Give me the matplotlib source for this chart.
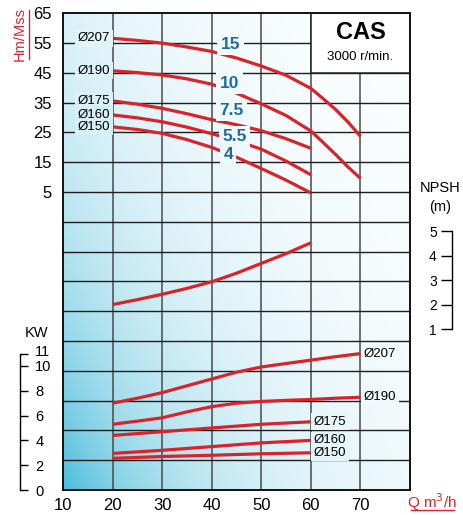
import numpy as np
import matplotlib
matplotlib.use("Agg")
from matplotlib import pyplot as plt
from matplotlib.patches import Rectangle
from matplotlib.lines import Line2D
from matplotlib.transforms import ScaledTranslation

plt.rcParams['font.family'] = ['Liberation Sans', 'DejaVu Sans']

# --- data ---
q_long = [20, 25, 30, 35, 40, 45, 50, 55, 60, 62.5, 65, 67.5, 70]
q_short = [20, 25, 30, 35, 40, 45, 50, 55, 60]
q_kw_long = [20, 25, 30, 35, 40, 45, 50, 55, 60, 65, 70]
q_kw_short = [20, 30, 40, 50, 60]

diam_labels = ['Ø207', 'Ø190', 'Ø175', 'Ø160', 'Ø150']
hp_labels = ['15', '10', '7.5', '5.5', '4']

# head (m)
head_207 = [56.6, 55.9, 55.0, 53.7, 52.2, 50.0, 47.3, 44.2, 39.8, 36.3, 32.7, 28.5, 23.7]
head_190 = [45.7, 45.1, 44.3, 43.0, 41.2, 38.2, 34.6, 30.7, 25.5, 21.6, 17.6, 13.4, 9.6]
head_175 = [35.6, 34.5, 33.1, 31.3, 29.3, 27.6, 25.6, 22.9, 19.7]
head_160 = [30.9, 29.9, 28.6, 26.8, 24.6, 22.2, 19.4, 15.4, 10.8]
head_150 = [26.9, 26.0, 24.7, 22.6, 20.0, 16.7, 12.9, 9.0, 4.7]

# NPSH (m)
q_npsh = [20, 25, 30, 35, 40, 45, 50, 55, 60]
npsh = [2.0, 2.2, 2.42, 2.66, 2.93, 3.28, 3.68, 4.08, 4.52]

# power (kW)
kw_207 = [7.0, 7.4, 7.85, 8.4, 8.95, 9.5, 9.92, 10.2, 10.47, 10.75, 11.0]
kw_190 = [5.3, 5.55, 5.82, 6.3, 6.72, 7.0, 7.14, 7.23, 7.3, 7.4, 7.48]
kw_175 = [4.4, 4.7, 5.0, 5.3, 5.5]
kw_160 = [2.95, 3.2, 3.5, 3.8, 4.0]
kw_150 = [2.55, 2.7, 2.8, 2.92, 3.0]

# where the hp labels sit (Q, H)
hp_pos_q = [43.8, 43.6, 44.0, 44.6, 43.3]
hp_pos_h = [54.6, 41.6, 32.4, 23.5, 17.6]

head_ticks = [65, 55, 45, 35, 25, 15, 5]
npsh_ticks = [1, 2, 3, 4, 5]
kw_ticks = [0, 2, 4, 6, 8, 10, 11]
q_ticks = [10, 20, 30, 40, 50, 60, 70]

RED = '#d9232b'
BLUE = '#1f6aa5'
CYAN = np.array([0.30, 0.74, 0.86])
WHITE = np.array([1.0, 1.0, 1.0])

W, H = 464, 515
fig = plt.figure(figsize=(W / 100, H / 100), dpi=100)


def fx(px):
    return px / W


def fy(py):
    return 1 - py / H


def bg_at(u, v):
    t = np.exp(-(2.4 * u + 1.6 * v))
    return WHITE * (1 - t) + CYAN * t


rect = [fx(63), fy(490), 347 / W, 476.7 / H]

# main axes: head scale
ax = fig.add_axes(rect)

# background gradient
uu, vv = np.meshgrid(np.linspace(0, 1, 300), np.linspace(0, 1, 300))
tt = np.exp(-(2.4 * uu + 1.6 * vv))[..., None]
img = WHITE * (1 - tt) + CYAN * tt
ax.imshow(img, extent=(10, 80, -95, 65), origin='lower', aspect='auto', zorder=0)
ax.set_xlim(10, 80)
ax.set_ylim(-95, 65)

for v in range(20, 80, 10):
    ax.axvline(v, color='#4a4a4a', lw=1.1, zorder=1)
for h in range(-85, 65, 10):
    ax.axhline(h, color='#1e1e1e', lw=1.0, zorder=1)

# CAS box
ax.add_patch(Rectangle((60, 45), 20, 20, fc='white', ec='#1e1e1e', lw=1.1, zorder=2))
ax.text(70, 58.6, 'CAS', ha='center', va='center', fontsize=17, fontweight='bold', zorder=3)
ax.text(70, 50.2, '3000 r/min.', ha='center', va='center', fontsize=9.5, zorder=3)


def label_box(a, x, y):
    u, v = a.transAxes.inverted().transform(a.transData.transform((x, y)))
    return dict(boxstyle='square,pad=0.2', fc=bg_at(u, v), ec='none')


heads = [head_207, head_190, head_175, head_160, head_150]
head_q = [q_long, q_long, q_short, q_short, q_short]
for qs, hs, name in zip(head_q, heads, diam_labels):
    ax.plot(qs, hs, color=RED, lw=2.3, solid_capstyle='butt', zorder=3)
    ax.text(qs[0] - 0.5, hs[0], name, ha='right', va='center', fontsize=9.5,
            bbox=label_box(ax, qs[0] - 3, hs[0]), zorder=4)

for x, y, s in zip(hp_pos_q, hp_pos_h, hp_labels):
    ax.text(x, y, s, ha='center', va='center', fontsize=12.5, fontweight='bold',
            color=BLUE, bbox=label_box(ax, x, y), zorder=4)

ax.set_yticks(head_ticks)
ax.set_xticks(q_ticks)
ax.tick_params(axis='y', length=0, pad=8, labelsize=12)
ax.tick_params(axis='x', length=0, pad=6, labelsize=12)
for sp in ax.spines.values():
    sp.set_linewidth(1.4)
    sp.set_color('#111111')
    sp.set_zorder(5)

# NPSH axes
ax_n = fig.add_axes(rect)
ax_n.patch.set_visible(False)
ax_n.set_xlim(10, 80)
ax_n.set_ylim(-5.57, 13.89)
ax_n.plot(q_npsh, npsh, color=RED, lw=2.3, solid_capstyle='butt')
for k in ['top', 'bottom', 'right']:
    ax_n.spines[k].set_visible(False)
ax_n.spines['left'].set_position(('axes', (452 - 63) / 347))
ax_n.spines['left'].set_bounds(1, 5)
ax_n.spines['left'].set_linewidth(1.0)
ax_n.set_yticks(npsh_ticks)
ax_n.tick_params(axis='y', direction='out', length=8, width=1.0, pad=3, labelsize=10)
ax_n.xaxis.set_visible(False)
fig.text(fx(440), fy(188), 'NPSH', ha='center', va='center', fontsize=10.5)
fig.text(fx(440), fy(207), '(m)', ha='center', va='center', fontsize=10.5)

# KW axes
ax_k = fig.add_axes(rect)
ax_k.patch.set_visible(False)
ax_k.set_xlim(10, 80)
ax_k.set_ylim(0, 38.44)
kws = [kw_207, kw_190, kw_175, kw_160, kw_150]
kw_q = [q_kw_long, q_kw_long, q_kw_short, q_kw_short, q_kw_short]
for qs, ks, name in zip(kw_q, kws, diam_labels):
    ax_k.plot(qs, ks, color=RED, lw=2.3, solid_capstyle='butt')
    ax_k.text(qs[-1] + 0.6, ks[-1], name, ha='left', va='center', fontsize=9.5,
              bbox=label_box(ax_k, qs[-1] + 3, ks[-1]))
for k in ['top', 'bottom', 'left']:
    ax_k.spines[k].set_visible(False)
ax_k.yaxis.set_ticks_position('right')
ax_k.spines['right'].set_position(('axes', (20 - 63) / 347))
ax_k.spines['right'].set_bounds(0, 11)
ax_k.spines['right'].set_linewidth(1.0)
ax_k.set_yticks(kw_ticks)
ax_k.tick_params(axis='y', direction='out', length=6, width=1.0, pad=5, labelsize=10.5)
ax_k.xaxis.set_visible(False)
# nudge "11" up a little so it does not sit on "10"
lbl_11 = ax_k.get_yticklabels()[-1]
lbl_11.set_transform(lbl_11.get_transform() + ScaledTranslation(0, 2 / 72, fig.dpi_scale_trans))
fig.text(fx(37), fy(333), 'KW', ha='center', va='center', fontsize=10.5)

# axis titles in red, underlined
fig.text(fx(20), fy(34), 'Hm/Mss', rotation=90, ha='center', va='center', fontsize=10.5, color=RED)
fig.add_artist(Line2D([fx(29), fx(29)], [fy(59), fy(10)], color=RED, lw=1.0))
fig.text(fx(432), fy(502), 'Q m$^3$/h', ha='center', va='center', fontsize=11, color=RED)
fig.add_artist(Line2D([fx(411), fx(454)], [fy(510), fy(510)], color=RED, lw=1.0))

fig.savefig('out.png', dpi=100)
